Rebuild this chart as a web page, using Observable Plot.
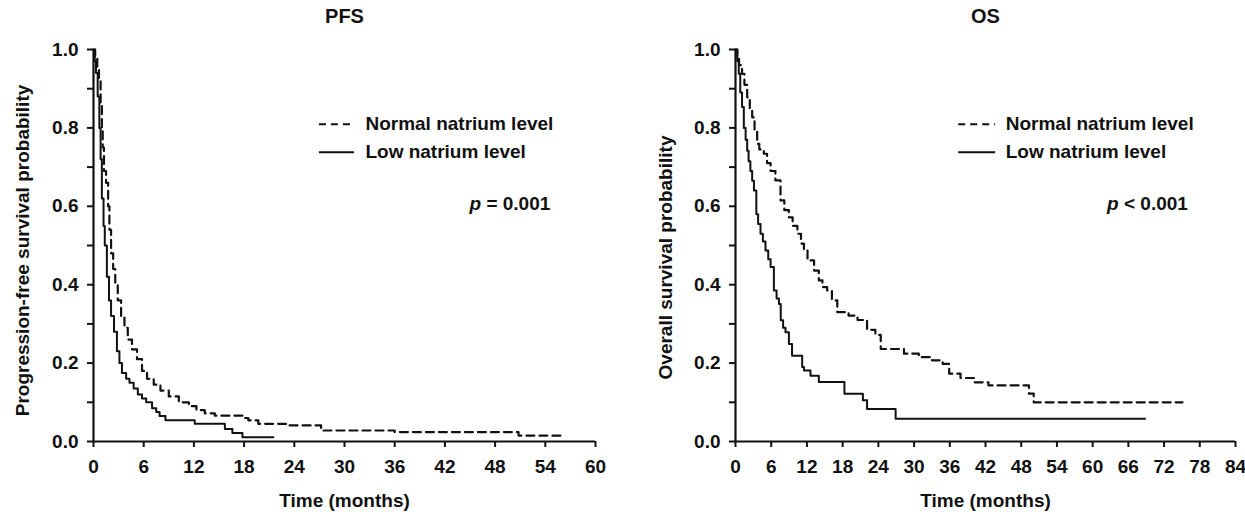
<!DOCTYPE html>
<html><head><meta charset="utf-8">
<script src="https://cdn.jsdelivr.net/npm/d3@7"></script>
<script src="https://cdn.jsdelivr.net/npm/@observablehq/plot@0.6"></script>
<style>
body{margin:0;background:#fff;}
#wrap{display:flex;width:1245px;height:512px;overflow:hidden;}
#wrap svg{display:block;flex:none;}
</style></head><body><div id="wrap"></div>
<script>
// ---- Data ----
const seriesNames = ["Normal natrium level", "Low natrium level"];
const panelTitles = ["PFS", "OS"];
const yLabels = ["Progression-free survival probability", "Overall survival probability"];
const xLabel = "Time (months)";
const pValues = ["p = 0.001", "p < 0.001"];
const xTicksPFS = [0, 6, 12, 18, 24, 30, 36, 42, 48, 54, 60];
const xTicksOS = [0, 6, 12, 18, 24, 30, 36, 42, 48, 54, 60, 66, 72, 78, 84];
const yTicks = [0, 0.1, 0.2, 0.3, 0.4, 0.5, 0.6, 0.7, 0.8, 0.9, 1.0];

// PFS – normal natrium level (dashed)
const pfsNormalT = [0, 0.2, 0.45, 0.65, 0.85, 1.0, 1.1, 1.25, 1.5, 1.75, 1.9, 2.1, 2.35, 2.6, 2.9, 3.3, 3.7, 4.1, 4.6, 5.2, 5.8, 6.4, 7.2, 8.0, 9.0, 10.2, 11.4, 12.3, 13.3, 14.5, 17.8, 18.5, 19.7, 23.0, 27.2, 36.0, 50.8, 55.8];
const pfsNormalS = [1.0, 0.98, 0.95, 0.92, 0.86, 0.80, 0.75, 0.69, 0.66, 0.60, 0.54, 0.48, 0.44, 0.40, 0.36, 0.32, 0.29, 0.26, 0.235, 0.21, 0.18, 0.16, 0.145, 0.13, 0.115, 0.10, 0.09, 0.08, 0.072, 0.066, 0.06, 0.054, 0.045, 0.041, 0.028, 0.024, 0.015, 0.015];
// PFS – low natrium level (solid)
const pfsLowT = [0, 0.15, 0.3, 0.5, 0.7, 0.85, 1.0, 1.2, 1.35, 1.6, 1.85, 2.1, 2.45, 2.8, 3.1, 3.4, 3.9, 4.3, 4.8, 5.3, 5.8, 6.3, 7.0, 7.5, 7.9, 8.6, 12.1, 15.7, 16.6, 17.8, 21.5];
const pfsLowS = [1.0, 0.97, 0.94, 0.88, 0.80, 0.72, 0.62, 0.55, 0.50, 0.42, 0.36, 0.32, 0.28, 0.23, 0.20, 0.175, 0.16, 0.15, 0.135, 0.12, 0.11, 0.10, 0.085, 0.075, 0.065, 0.054, 0.045, 0.032, 0.022, 0.011, 0.011];
// OS – normal natrium level (dashed)
const osNormalT = [0, 0.3, 0.6, 1.1, 1.5, 1.96, 2.4, 2.8, 3.2, 3.64, 4.0, 4.76, 5.3, 5.9, 6.7, 7.56, 8.2, 8.97, 9.6, 10.4, 11.0, 11.5, 12.1, 13.2, 14.0, 14.6, 15.4, 16.2, 17.1, 19.0, 20.5, 22.1, 23.5, 24.4, 28.3, 30.8, 33.0, 34.8, 35.9, 37.8, 40.1, 42.5, 49.3, 50.1, 75.1];
const osNormalS = [1.0, 0.98, 0.96, 0.938, 0.91, 0.878, 0.85, 0.827, 0.79, 0.759, 0.745, 0.734, 0.71, 0.69, 0.666, 0.615, 0.59, 0.572, 0.55, 0.53, 0.505, 0.487, 0.462, 0.436, 0.411, 0.394, 0.385, 0.36, 0.33, 0.321, 0.31, 0.285, 0.272, 0.236, 0.224, 0.215, 0.207, 0.198, 0.173, 0.162, 0.151, 0.143, 0.122, 0.10, 0.10];
// OS – low natrium level (solid)
const osLowT = [0, 0.3, 0.55, 0.8, 1.1, 1.4, 1.7, 1.96, 2.2, 2.5, 2.8, 3.1, 3.5, 3.8, 4.2, 4.6, 5.04, 5.5, 5.9, 6.45, 6.9, 7.3, 7.6, 8.0, 8.4, 8.97, 9.5, 11.2, 11.5, 12.6, 14.0, 18.3, 21.4, 22.1, 26.9, 68.8];
const osLowS = [1.0, 0.97, 0.938, 0.89, 0.853, 0.80, 0.77, 0.742, 0.715, 0.69, 0.665, 0.64, 0.58, 0.555, 0.53, 0.51, 0.487, 0.465, 0.445, 0.385, 0.365, 0.351, 0.309, 0.29, 0.279, 0.249, 0.219, 0.19, 0.181, 0.168, 0.152, 0.122, 0.105, 0.083, 0.058, 0.058];

// ---- Build tables ----
const table = (T, S) => T.map((t, i) => ({t, s: S[i]}));

const FONT = "'Liberation Sans', Arial, sans-serif";
const INK = "#111";

function panel(cfg) {
  const normal = table(cfg.normalT, cfg.normalS);
  const low = table(cfg.lowT, cfg.lowS);
  const svg = Plot.plot({
    width: cfg.width, height: 512,
    marginLeft: cfg.marginLeft, marginRight: cfg.marginRight,
    marginTop: 49, marginBottom: 71,
    style: {fontFamily: FONT, fontWeight: "bold", fontSize: "19px", color: INK, background: "#fff"},
    x: {domain: [0, cfg.xMax]},
    y: {domain: [0, 1]},
    marks: [
      Plot.axisX({ticks: cfg.xTicks, tickSize: 6, tickPadding: 12, label: null, strokeWidth: 2, fontSize: 19}),
      Plot.axisY({ticks: yTicks, tickSize: 6, tickPadding: 9, label: null, strokeWidth: 2, fontSize: 19,
        tickFormat: d => Math.round(d * 10) % 2 === 0 ? d.toFixed(1) : ""}),
      Plot.ruleX([0], {stroke: INK, strokeWidth: 2.2}),
      Plot.ruleY([0], {stroke: INK, strokeWidth: 2.2}),
      Plot.line(normal, {x: "t", y: "s", curve: "step-after", stroke: INK, strokeWidth: 2.2, strokeDasharray: "8,5"}),
      Plot.line(low, {x: "t", y: "s", curve: "step-after", stroke: INK, strokeWidth: 2}),
      // legend
      Plot.ruleY([cfg.legY[0]], {x1: cfg.legX[0], x2: cfg.legX[1], stroke: INK, strokeWidth: 2, strokeDasharray: "7,5"}),
      Plot.ruleY([cfg.legY[1]], {x1: cfg.legX[0], x2: cfg.legX[1], stroke: INK, strokeWidth: 2}),
      Plot.text(seriesNames, {x: cfg.legX[2], y: (d, i) => cfg.legY[i], text: d => d, textAnchor: "start", fill: INK, fontSize: 19, fontWeight: "bold"}),
      Plot.text([cfg.p], {x: cfg.pX, y: 0.607, text: d => d, textAnchor: "end", fill: INK, fontSize: 19, fontWeight: "bold"}),
      // titles and labels
      Plot.text([cfg.title], {frameAnchor: "top", dy: -33, lineAnchor: "middle", text: d => d, fill: INK, fontSize: 20, fontWeight: "bold"}),
      Plot.text([cfg.yLabel], {frameAnchor: "left", dx: cfg.yLabelDx, dy: cfg.yLabelDy, rotate: -90, textAnchor: "middle", lineAnchor: "middle", text: d => d, fill: INK, fontSize: 19, fontWeight: "bold"}),
      Plot.text([xLabel], {frameAnchor: "bottom", dy: 59, lineAnchor: "middle", text: d => d, fill: INK, fontSize: 19, fontWeight: "bold"})
    ]
  });
  // italic p
  d3.select(svg).selectAll("text").filter(function() { return this.textContent === cfg.p; })
    .each(function() {
      const rest = cfg.p.slice(1);
      const t = d3.select(this);
      t.text(null);
      t.append("tspan").attr("font-style", "italic").text("p");
      t.append("tspan").text(rest);
    });
  return svg;
}

const wrap = document.getElementById("wrap");
wrap.appendChild(panel({
  title: panelTitles[0], yLabel: yLabels[0], p: pValues[0],
  normalT: pfsNormalT, normalS: pfsNormalS, lowT: pfsLowT, lowS: pfsLowS,
  xMax: 60, xTicks: xTicksPFS, width: 622, marginLeft: 93, marginRight: 27,
  legX: [27, 31.2, 32.5], legY: [0.809, 0.738], pX: 54.6, yLabelDx: -71, yLabelDy: 5
}));
wrap.appendChild(panel({
  title: panelTitles[1], yLabel: yLabels[1], p: pValues[1],
  normalT: osNormalT, normalS: osNormalS, lowT: osLowT, lowS: osLowS,
  xMax: 84, xTicks: xTicksOS, width: 623, marginLeft: 113, marginRight: 10,
  legX: [37.5, 43.7, 45.4], legY: [0.809, 0.738], pX: 76.0, yLabelDx: -70, yLabelDy: 12
}));
</script>
</body></html>
